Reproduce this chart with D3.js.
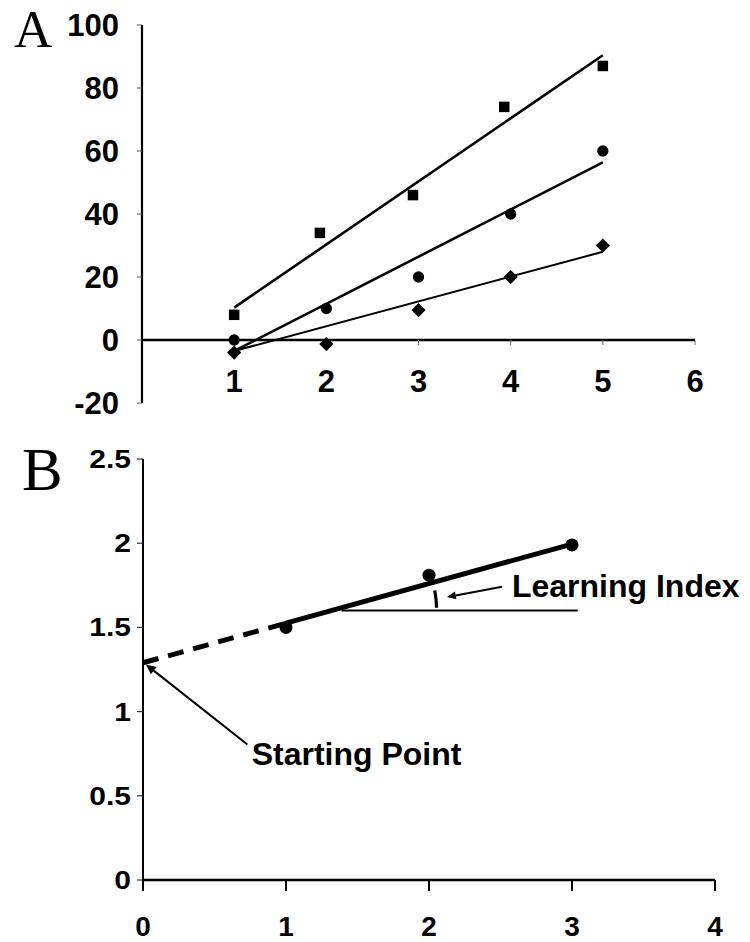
<!DOCTYPE html>
<html><head><meta charset="utf-8">
<script src="https://cdn.jsdelivr.net/npm/d3@7"></script>
<style>body{margin:0;background:#fff}svg{display:block}</style>
</head><body>
<script>
// ---------- Panel A data ----------
const xTicksA = [1,2,3,4,5,6];
const yTicksA = [-20,0,20,40,60,80,100];
const squareX = [1,1.93,2.94,3.93,5];
const squareY = [8,34,46,74,87];
const circleX = [1,2,3,4,5];
const circleY = [0,10,20,40,60];
const diamondX = [1,2,3,4,5];
const diamondY = [-4,-1.3,9.5,20,30];
const squareFit = [[1,10.3],[5,90.4]];
const circleFit = [[1,-3.5],[5,56.4]];
const diamondFit = [[1,-3.5],[5,28]];

// ---------- Panel B data ----------
const xTicksB = [0,1,2,3,4];
const yTicksB = [0,0.5,1,1.5,2,2.5];
const bX = [1,2,3];
const bY = [1.5,1.81,1.99];
const dashedFit = [[0,1.29],[1,1.525]];
const solidFit = [[1,1.525],[3,1.995]];
const refLine = [[1.39,1.6],[3.04,1.6]];
const learnLabel = {text:"Learning Index", x:2.58, y:1.68};
const learnArrow = [[2.51,1.742],[2.125,1.68]];
const startLabel = {text:"Starting Point", x:0.76, y:0.683};
const startArrow = [[0.73,0.805],[0.02,1.28]];

const W = 750, H = 942;
const svg = d3.select("body").append("svg").attr("width",W).attr("height",H);
const bold = "'Liberation Sans', Arial, sans-serif";
const serif = "'Liberation Serif', 'Times New Roman', serif";

// ===== Panel A =====
const xA = d3.scaleLinear().domain([0,6]).range([142,695]);
const yA = d3.scaleLinear().domain([-20,100]).range([403,25]);
const gA = svg.append("g");

gA.append("line").attr("x1",xA(0)).attr("x2",xA(0)).attr("y1",yA(100)).attr("y2",yA(-20))
  .attr("stroke","#000").attr("stroke-width",2.2);
gA.selectAll(".ytA").data(yTicksA).join("line")
  .attr("x1",xA(0)-5).attr("x2",xA(0)).attr("y1",d=>yA(d)).attr("y2",d=>yA(d))
  .attr("stroke","#555").attr("stroke-width",1);
gA.selectAll(".ylA").data(yTicksA).join("text")
  .attr("x",119).attr("y",d=>yA(d)).attr("dy","0.36em").attr("text-anchor","end")
  .attr("font-family",bold).attr("font-weight","bold").attr("font-size",31).text(d=>d);
gA.append("line").attr("x1",xA(0)).attr("x2",xA(6)).attr("y1",yA(0)).attr("y2",yA(0))
  .attr("stroke","#000").attr("stroke-width",2.6);
gA.selectAll(".xtA").data(xTicksA).join("line")
  .attr("x1",d=>xA(d)).attr("x2",d=>xA(d)).attr("y1",yA(0)).attr("y2",yA(0)+5)
  .attr("stroke","#666").attr("stroke-width",1);
gA.selectAll(".xlA").data(xTicksA).join("text")
  .attr("x",d=>xA(d)).attr("y",yA(0)+52).attr("text-anchor","middle")
  .attr("font-family",bold).attr("font-weight","bold").attr("font-size",31).text(d=>d);

const lineA = d3.line().x(d=>xA(d[0])).y(d=>yA(d[1]));
gA.append("path").attr("d",lineA(squareFit)).attr("fill","none").attr("stroke","#000").attr("stroke-width",2.6);
gA.append("path").attr("d",lineA(circleFit)).attr("fill","none").attr("stroke","#000").attr("stroke-width",2.6);
gA.append("path").attr("d",lineA(diamondFit)).attr("fill","none").attr("stroke","#000").attr("stroke-width",2);

const sqSym = d3.symbol().type(d3.symbolSquare).size(110);
const ciSym = d3.symbol().type(d3.symbolCircle).size(100);
const diSym = d3.symbol().type(d3.symbolSquare).size(100);
gA.selectAll(".sq").data(squareX.map((x,i)=>[x,squareY[i]])).join("path")
  .attr("d",sqSym()).attr("transform",d=>`translate(${xA(d[0])},${yA(d[1])})`).attr("fill","#000");
gA.selectAll(".ci").data(circleX.map((x,i)=>[x,circleY[i]])).join("path")
  .attr("d",ciSym()).attr("transform",d=>`translate(${xA(d[0])},${yA(d[1])})`).attr("fill","#000");
gA.selectAll(".di").data(diamondX.map((x,i)=>[x,diamondY[i]])).join("path")
  .attr("d",diSym()).attr("transform",d=>`translate(${xA(d[0])},${yA(d[1])}) rotate(45)`).attr("fill","#000");

gA.append("text").attr("x",14).attr("y",47).attr("font-family",serif).attr("font-size",53).text("A");

// ===== Panel B =====
const xB = d3.scaleLinear().domain([0,4]).range([143,715]);
const yB = d3.scaleLinear().domain([0,2.5]).range([880,459]);
const gB = svg.append("g");

gB.append("line").attr("x1",xB(0)).attr("x2",xB(0)).attr("y1",yB(2.5)).attr("y2",yB(0))
  .attr("stroke","#000").attr("stroke-width",2);
gB.selectAll(".ytB").data(yTicksB).join("line")
  .attr("x1",xB(0)-6).attr("x2",xB(0)).attr("y1",d=>yB(d)).attr("y2",d=>yB(d))
  .attr("stroke","#333").attr("stroke-width",1.2);
gB.selectAll(".ylB").data(yTicksB).join("text")
  .attr("transform",d=>`translate(131,${yB(d)}) scale(1.2,1)`).attr("dy","0.36em").attr("text-anchor","end")
  .attr("font-family",bold).attr("font-weight","bold").attr("font-size",25).text(d=>d);
gB.append("line").attr("x1",xB(0)).attr("x2",xB(4)).attr("y1",yB(0)).attr("y2",yB(0))
  .attr("stroke","#000").attr("stroke-width",2.4);
gB.selectAll(".xtB").data(xTicksB).join("line")
  .attr("x1",d=>xB(d)).attr("x2",d=>xB(d)).attr("y1",yB(0)).attr("y2",yB(0)+11)
  .attr("stroke","#000").attr("stroke-width",2);
gB.selectAll(".xlB").data(xTicksB).join("text")
  .attr("x",d=>xB(d)).attr("y",936).attr("text-anchor","middle")
  .attr("font-family",bold).attr("font-weight","bold").attr("font-size",28).text(d=>d);

const lineB = d3.line().x(d=>xB(d[0])).y(d=>yB(d[1]));
gB.append("path").attr("d",lineB(refLine)).attr("fill","none").attr("stroke","#000").attr("stroke-width",2);
gB.append("path").attr("d",lineB(dashedFit)).attr("fill","none").attr("stroke","#000")
  .attr("stroke-width",5).attr("stroke-dasharray","16,10");
gB.append("path").attr("d",lineB(solidFit)).attr("fill","none").attr("stroke","#000").attr("stroke-width",5);
gB.selectAll(".bp").data(bX.map((x,i)=>[x,bY[i]])).join("circle")
  .attr("cx",d=>xB(d[0])).attr("cy",d=>yB(d[1])).attr("r",6.5).attr("fill","#000");

{
  const slope = (solidFit[1][1]-solidFit[0][1])/(solidFit[1][0]-solidFit[0][0]);
  const xi = solidFit[0][0] + (refLine[0][1]-solidFit[0][1])/slope;
  const cx = xB(xi), cy = yB(refLine[0][1]);
  const r = 105, a0 = 1.5*Math.PI/180, a1 = 11*Math.PI/180;
  const p0 = [cx + r*Math.cos(a0), cy - r*Math.sin(a0)];
  const p1 = [cx + r*Math.cos(a1), cy - r*Math.sin(a1)];
  gB.append("path").attr("d",`M${p0[0]},${p0[1]} A${r},${r} 0 0 0 ${p1[0]},${p1[1]}`)
    .attr("fill","none").attr("stroke","#000").attr("stroke-width",3.2);
}

function arrow(g, pts, sw, hl, hw){
  const [x1,y1] = [xB(pts[0][0]),yB(pts[0][1])];
  const [x2,y2] = [xB(pts[1][0]),yB(pts[1][1])];
  const ang = Math.atan2(y2-y1,x2-x1);
  const bx = x2 - hl*Math.cos(ang), by = y2 - hl*Math.sin(ang);
  g.append("line").attr("x1",x1).attr("y1",y1).attr("x2",bx).attr("y2",by)
    .attr("stroke","#000").attr("stroke-width",sw);
  const nx = -Math.sin(ang)*hw, ny = Math.cos(ang)*hw;
  g.append("path").attr("d",`M${x2},${y2}L${bx+nx},${by+ny}L${bx-nx},${by-ny}Z`).attr("fill","#000");
}
arrow(gB, learnArrow, 2, 9, 4);
arrow(gB, startArrow, 2, 10, 4.5);

gB.append("text").attr("x",xB(learnLabel.x)).attr("y",yB(learnLabel.y))
  .attr("font-family",bold).attr("font-weight","bold").attr("font-size",32).text(learnLabel.text);
gB.append("text").attr("x",xB(startLabel.x)).attr("y",yB(startLabel.y))
  .attr("font-family",bold).attr("font-weight","bold").attr("font-size",32).text(startLabel.text);

gB.append("text").attr("x",22).attr("y",490).attr("font-family",serif).attr("font-size",61).text("B");
</script>
</body></html>
